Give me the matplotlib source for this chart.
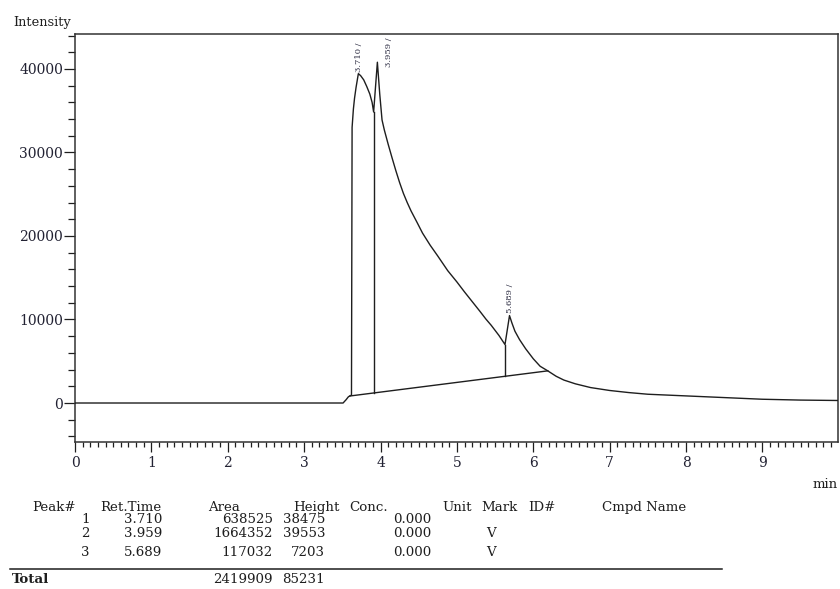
import numpy as np
import matplotlib.pyplot as plt
from matplotlib.ticker import MultipleLocator, FuncFormatter

plt.rcParams['font.family'] = ['DejaVu Serif']

# Detector trace (time in min, intensity); apex points are added from the peak table
time_min = [0.00, 3.51, 3.55, 3.58, 3.620, 3.628, 3.645, 3.66, 3.68, 3.74, 3.78,
            3.82, 3.86, 3.89, 3.91,
            3.99, 4.02, 4.05, 4.10, 4.15, 4.20, 4.25, 4.30, 4.35, 4.40, 4.48, 4.55,
            4.65, 4.75, 4.88, 5.00, 5.10, 5.20, 5.30, 5.38, 5.45, 5.55, 5.63,
            5.72, 5.76, 5.82, 5.90, 6.00, 6.09, 6.19, 6.30, 6.40, 6.55, 6.75,
            7.00, 7.25, 7.50, 8.00, 8.50, 9.00, 9.50, 10.00]
intensity = [0, 0, 400, 750, 950, 33000, 35200, 36500, 37800, 39200, 38700,
             37900, 37000, 36000, 34850,
             37000, 33900, 32700, 31000, 29400, 27850, 26400, 25100, 24000, 23000, 21600, 20350,
             18900, 17600, 15850, 14500, 13300, 12150, 11000, 10050, 9300, 8100, 7000,
             9600, 8600, 7600, 6500, 5300, 4400, 3850, 3200, 2750, 2300, 1850,
             1500, 1250, 1050, 850, 650, 450, 350, 300]

# Peak table
peak_no = [1, 2, 3]
ret_time = [3.710, 3.959, 5.689]
area = [638525, 1664352, 117032]
height = [38475, 39553, 7203]
conc = [0.000, 0.000, 0.000]
mark = ['', 'V', 'V']

# Integration baseline and valley drop lines
base_t = [3.60, 6.19]
base_y = [840, 3850]
drop_t = [3.91, 5.63]

# Peak label offsets (points)
label_dx = [0.8, 8.6, 0.0]
label_dy = [1.5, -3.6, 2.2]

ink = '#1e1e1e'

fig = plt.figure(figsize=(8.4, 5.89), dpi=100)
W, H = 840, 589
ax = fig.add_axes([75 / W, 1 - 442 / H, 763 / W, 408 / H])

apex = [h + np.interp(t, base_t, base_y) for t, h in zip(ret_time, height)]
t_all = np.array(time_min + ret_time)
y_all = np.array(intensity + apex)
order = np.argsort(t_all)
t_all, y_all = t_all[order], y_all[order]
ax.plot(t_all, y_all, color=ink, lw=1.0, zorder=3, solid_joinstyle='round')

ax.plot(base_t, base_y, color=ink, lw=1.0, zorder=3)
for t in drop_t:
    ax.plot([t, t], [np.interp(t, base_t, base_y), np.interp(t, t_all, y_all)],
            color=ink, lw=1.0, zorder=3)

for t, a, dx, dy in zip(ret_time, apex, label_dx, label_dy):
    ax.annotate(f'{t:.3f} /', (t, a), xytext=(dx, dy), textcoords='offset points',
                rotation=90, ha='center', va='bottom', fontsize=6, color='#2a2a40')

ax.set_xlim(0, 9.99)
ax.set_ylim(-4670, 44190)
ax.xaxis.set_major_locator(MultipleLocator(1))
ax.xaxis.set_minor_locator(MultipleLocator(0.1))
ax.yaxis.set_major_locator(MultipleLocator(10000))
ax.yaxis.set_minor_locator(MultipleLocator(2000))
ax.yaxis.set_major_formatter(FuncFormatter(lambda v, p: f'{v:.0f}'))
ax.tick_params(which='both', direction='out', width=0.9, color=ink,
               labelsize=10, labelcolor='#222233')
ax.tick_params(axis='x', which='major', length=7.2, pad=3.2)
ax.tick_params(axis='x', which='minor', length=3.6)
ax.tick_params(axis='y', which='major', length=7.8, pad=0.8)
ax.tick_params(axis='y', which='minor', length=5.0)
for s in ax.spines.values():
    s.set_linewidth(1.1)
    s.set_color('#333333')
ax.set_facecolor('none')

fig.text(13 / W, 1 - 26 / H, 'Intensity', fontsize=9.3, ha='left', va='baseline', color=ink)
fig.text(838 / W, 1 - 488 / H, 'min', fontsize=9.5, ha='right', va='baseline', color=ink)

def tx(x, y, s, ha='left', **kw):
    fig.text(x / W, 1 - y / H, s, ha=ha, va='baseline', fontsize=9.6, color=ink, **kw)

# Peak table
hy = 511
for x, s in [(32, 'Peak#'), (100, 'Ret.Time'), (208, 'Area'), (293, 'Height'),
             (349, 'Conc.'), (442, 'Unit'), (481, 'Mark'), (528, 'ID#'), (602, 'Cmpd Name')]:
    tx(x, hy, s)
row_y = [523, 537, 556]
for y, n, rt, ar, hg, c, m in zip(row_y, peak_no, ret_time, area, height, conc, mark):
    tx(90, y, str(n), ha='right')
    tx(162, y, f'{rt:.3f}', ha='right')
    tx(273, y, str(ar), ha='right')
    tx(325, y, str(hg), ha='right')
    tx(431, y, f'{c:.3f}', ha='right')
    tx(486, y, m)
fig.add_artist(plt.Line2D([10 / W, 722 / W], [1 - 569 / H, 1 - 569 / H], color=ink, lw=1.1))
tx(12, 583, 'Total', fontweight='bold')
tx(273, 583, str(sum(area)), ha='right')
tx(325, 583, str(sum(height)), ha='right')

fig.savefig('out.png', dpi=100)
